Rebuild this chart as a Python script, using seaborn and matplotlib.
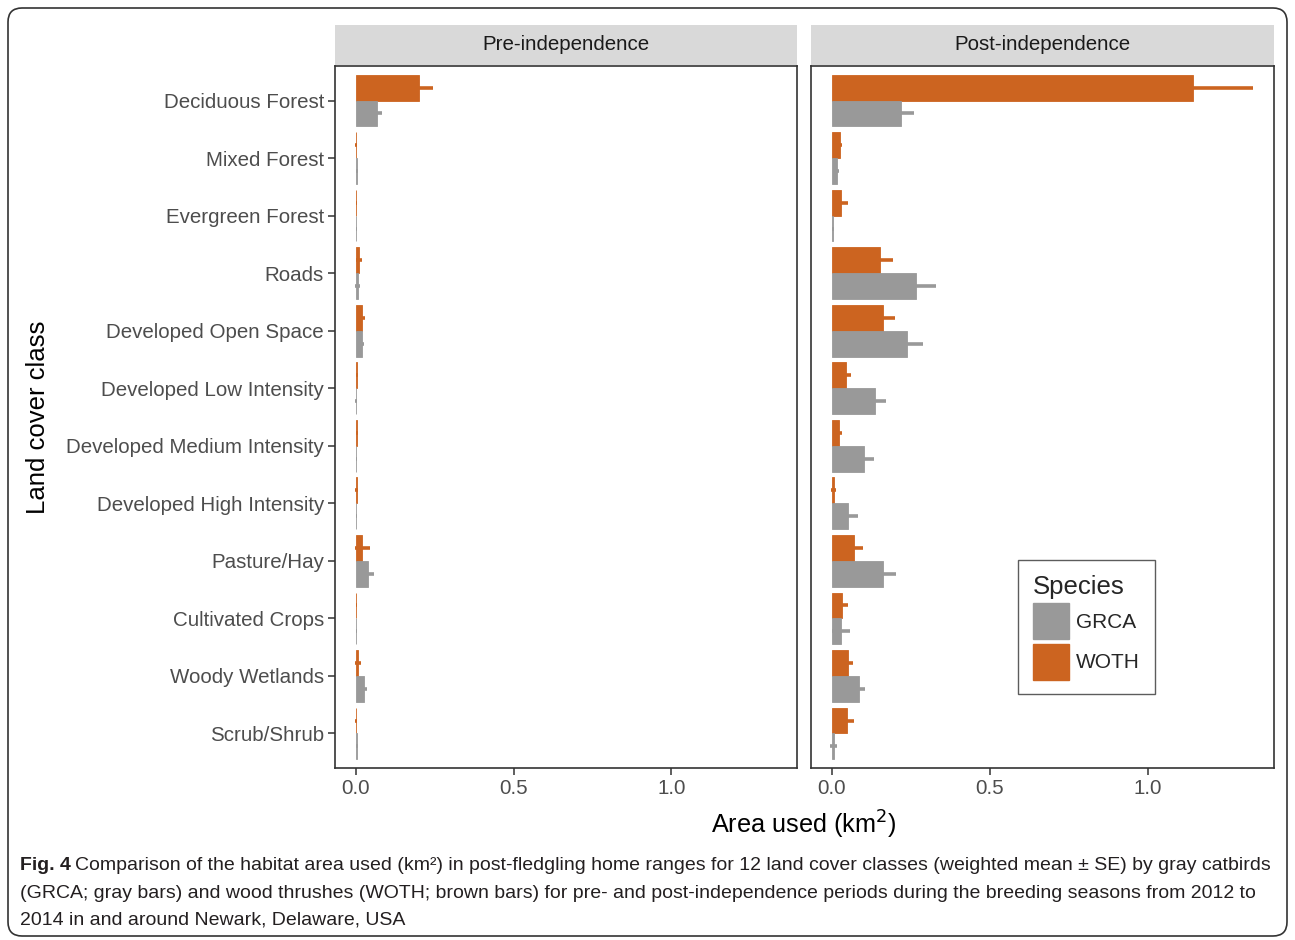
import seaborn as sns
import matplotlib.pyplot as plt
import pandas as pd
from matplotlib.patches import Rectangle, Patch, FancyBboxPatch
from matplotlib.transforms import IdentityTransform

classes = ["Deciduous Forest", "Mixed Forest", "Evergreen Forest", "Roads",
           "Developed Open Space", "Developed Low Intensity",
           "Developed Medium Intensity", "Developed High Intensity",
           "Pasture/Hay", "Cultivated Crops", "Woody Wetlands", "Scrub/Shrub"]

# weighted mean area (km2) and SE
pre_grca = [0.068, 0.002, 0.001, 0.005, 0.018, 0.001, 0.001, 0.0005, 0.038, 0.001, 0.024, 0.002]
pre_grca_se = [0.016, 0.003, 0.002, 0.007, 0.008, 0.003, 0.002, 0.002, 0.018, 0.002, 0.012, 0.003]
pre_woth = [0.199, 0.001, 0.0005, 0.010, 0.018, 0.002, 0.002, 0.002, 0.020, 0.001, 0.007, 0.001]
pre_woth_se = [0.045, 0.003, 0.002, 0.009, 0.012, 0.003, 0.003, 0.004, 0.024, 0.002, 0.009, 0.003]
post_grca = [0.219, 0.016, 0.002, 0.267, 0.236, 0.135, 0.100, 0.052, 0.161, 0.029, 0.086, 0.005]
post_grca_se = [0.040, 0.007, 0.003, 0.063, 0.052, 0.037, 0.032, 0.031, 0.041, 0.028, 0.019, 0.010]
post_woth = [1.142, 0.024, 0.028, 0.151, 0.160, 0.043, 0.023, 0.005, 0.070, 0.031, 0.050, 0.048]
post_woth_se = [0.190, 0.009, 0.024, 0.041, 0.040, 0.016, 0.008, 0.007, 0.028, 0.021, 0.015, 0.022]

species = ["GRCA", "WOTH"]
colors = {"GRCA": "#999999", "WOTH": "#CC6420"}

rows = []
for period, g, gs, w, ws in [("Pre-independence", pre_grca, pre_grca_se, pre_woth, pre_woth_se),
                             ("Post-independence", post_grca, post_grca_se, post_woth, post_woth_se)]:
    for i, c in enumerate(classes):
        rows.append((period, c, "GRCA", g[i], gs[i]))
        rows.append((period, c, "WOTH", w[i], ws[i]))
df = pd.DataFrame(rows, columns=["period", "cls", "species", "area", "se"])

sns.set_theme(style="white")
plt.rcParams["font.family"] = ["Liberation Sans", "DejaVu Sans"]

W, H = 1295, 940
fig = plt.figure(figsize=(W / 100, H / 100), dpi=100)

top, bot = 66, 768
panels = [("Pre-independence", 335, 797), ("Post-independence", 811, 1274)]

xmax = (df["area"] + df["se"]).max()
xlim = (-0.05 * xmax, xmax * 1.05)

axes = []
for period, x0, x1 in panels:
    ax = fig.add_axes([x0 / W, 1 - bot / H, (x1 - x0) / W, (bot - top) / H])
    sub = df[df["period"] == period]
    sns.barplot(data=sub, x="area", y="cls", hue="species", order=classes,
                hue_order=["WOTH", "GRCA"], palette=colors, width=0.9,
                orient="h", errorbar=None, legend=False, ax=ax,
                linewidth=0.6, saturation=1)
    for cont, sp in zip(ax.containers, ["WOTH", "GRCA"]):
        s = sub[sub["species"] == sp].set_index("cls").loc[classes]
        ys = [p.get_y() + p.get_height() / 2 for p in cont.patches]
        for p in cont.patches:
            p.set_edgecolor(colors[sp])
        ax.errorbar(s["area"].values, ys, xerr=s["se"].values, fmt="none",
                    ecolor=colors[sp], elinewidth=2.6, capsize=0, zorder=3)
    ax.set_xlim(*xlim)
    ax.set_ylim(11.6, -0.6)
    ax.set_xticks([0, 0.5, 1.0])
    ax.set_xticklabels(["0.0", "0.5", "1.0"])
    ax.set_xlabel("")
    ax.set_ylabel("")
    for sp_ in ax.spines.values():
        sp_.set_color("#333333")
        sp_.set_linewidth(1.2)
    ax.tick_params(axis="both", which="both", length=5, width=1.1, color="#333333",
                   labelsize=14.8, labelcolor="#4D4D4D", pad=3)
    ax.tick_params(axis="y", left=True)
    ax.tick_params(axis="x", bottom=True)
    ax.add_patch(Rectangle((0, 1.0 + 1 / 702), 1, 40 / 702, transform=ax.transAxes,
                           facecolor="#D9D9D9", edgecolor="none", clip_on=False))
    ax.text(0.5, 1.0 + 21 / 702, period, transform=ax.transAxes, ha="center",
            va="center", fontsize=14.8, color="#1A1A1A")
    axes.append(ax)

axes[1].set_yticks([])

fig.text(38 / W, 1 - 417 / H, "Land cover class", rotation=90, ha="center",
         va="center", fontsize=18.5, color="black")
fig.text(804 / W, 1 - 825 / H, "Area used (km$^2$)", ha="center", va="center",
         fontsize=18.2, color="black")

handles = [Patch(facecolor=colors[s], edgecolor=colors[s]) for s in species]
leg = fig.legend(handles, species, loc="upper left", bbox_to_anchor=(1018 / W, 1 - 560 / H),
                 title="Species", fontsize=15, title_fontsize=18.5, frameon=True,
                 fancybox=False, edgecolor="#333333", handlelength=1.75,
                 handleheight=2.28, labelspacing=0.22, borderpad=0.7, handletextpad=0.35,
                 borderaxespad=0)
leg._legend_box.align = "left"
leg.get_frame().set_linewidth(1.0)

# caption
cap_font = ["Liberation Sans", "DejaVu Sans"]
cap_col = "#231F20"
line1 = ("Comparison of the habitat area used (km²) in post-fledgling home ranges for 12 land cover "
         "classes (weighted mean ± SE) by gray catbirds")
line2 = ("(GRCA; gray bars) and wood thrushes (WOTH; brown bars) for pre- and post-independence "
         "periods during the breeding seasons from 2012 to")
line3 = "2014 in and around Newark, Delaware, USA"

# shrink the caption size until the first line fits the frame width
cap_size = 14
fig.canvas.draw()
while True:
    t = fig.text(20 / W, 1 - 866 / H, "Fig. 4", fontsize=cap_size, fontweight="bold",
                 family=cap_font, va="center", color=cap_col)
    r = fig.text(0, 1 - 866 / H, line1, fontsize=cap_size, family=cap_font, va="center",
                 color=cap_col)
    fig.canvas.draw()
    bb = t.get_window_extent()
    r.set_x((bb.x1 + 4) / W)
    fig.canvas.draw()
    if r.get_window_extent().x1 <= 1276 or cap_size < 9:
        break
    t.remove()
    r.remove()
    cap_size -= 0.25

fig.text(20 / W, 1 - 893 / H, line2, fontsize=cap_size, family=cap_font, va="center", color=cap_col)
fig.text(20 / W, 1 - 920 / H, line3, fontsize=cap_size, family=cap_font, va="center", color=cap_col)

fig.patches.append(FancyBboxPatch((8, 4), 1279, 928, boxstyle="round,pad=0,rounding_size=14",
                                  transform=IdentityTransform(), facecolor="none",
                                  edgecolor="#333333", linewidth=1.2, figure=fig))

fig.savefig("out.png", dpi=100)
